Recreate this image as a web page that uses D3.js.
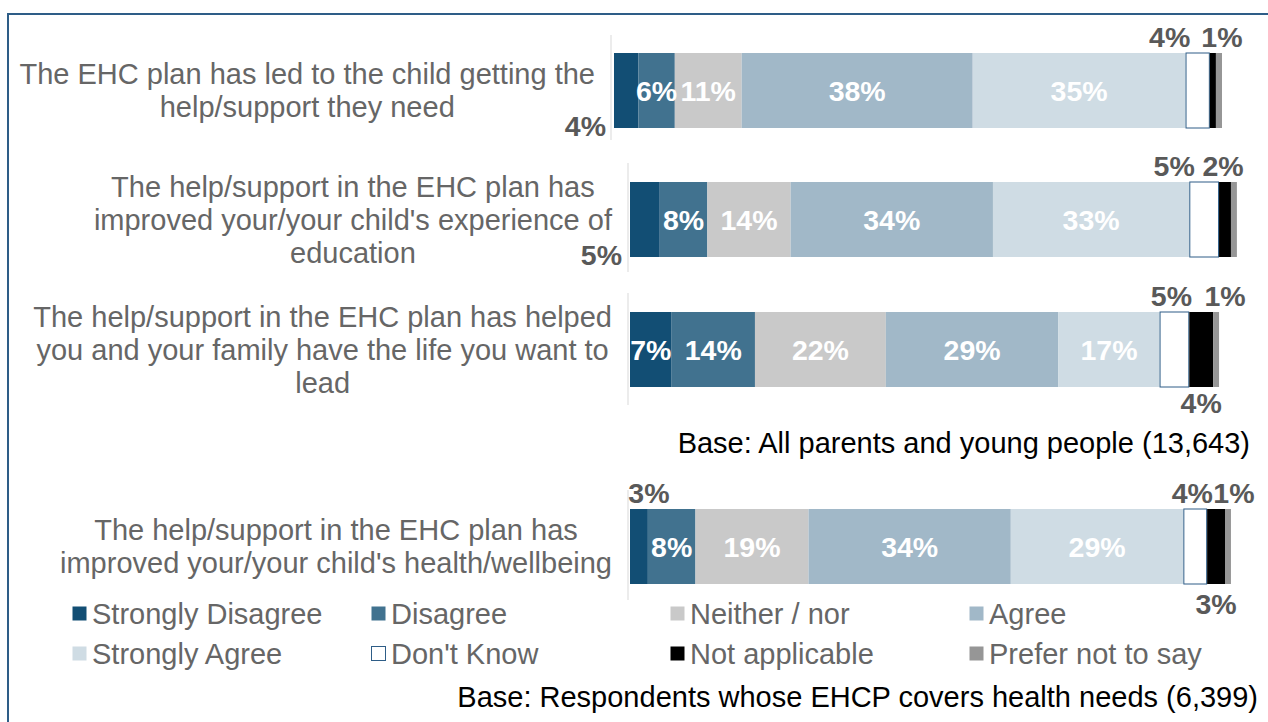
<!DOCTYPE html>
<html>
<head>
<meta charset="utf-8">
<script src="https://cdn.jsdelivr.net/npm/d3@7"></script>
<style>
	html, body { margin: 0; padding: 0; background: #fff; }
	svg { display: block; font-family: "Liberation Sans", Arial, sans-serif; }
</style>
</head>
<body>
<script>
	'use strict';

	// statements, one per bar (line breaks as in the original)
	var categories = [
		["The EHC plan has led to the child getting the", "help/support they need"],
		["The help/support in the EHC plan has", "improved your/your child's experience of", "education"],
		["The help/support in the EHC plan has helped", "you and your family have the life you want to", "lead"],
		["The help/support in the EHC plan has", "improved your/your child's health/wellbeing"]
	];

	var seriesNames = ["Strongly Disagree", "Disagree", "Neither / nor", "Agree",
		"Strongly Agree", "Don't Know", "Not applicable", "Prefer not to say"];

	// percentages per series, one value per statement
	var stronglyDisagree = [4, 5, 7, 3];
	var disagree         = [6, 8, 14, 8];
	var neitherNor       = [11, 14, 22, 19];
	var agree            = [38, 34, 29, 34];
	var stronglyAgree    = [35, 33, 17, 29];
	var dontKnow         = [4, 5, 5, 4];
	var notApplicable    = [1, 2, 4, 3];
	var preferNotToSay   = [1, 1, 1, 1];

	var baseNotes = ["Base: All parents and young people (13,643)",
		"Base: Respondents whose EHCP covers health needs (6,399)"];

	var series = [stronglyDisagree, disagree, neitherNor, agree, stronglyAgree, dontKnow, notApplicable, preferNotToSay];

	var colors = ["#124e74", "#41728f", "#c9c9c9", "#a1b8c8", "#cfdce4", "#ffffff", "#000000", "#969696"];

	// each bar is its own little chart in the original, so each gets its own frame
	var panels = [
		{ left: 614, right: 1222, top: 53, axisX: 611, axisTop: 35, axisBottom: 140 },
		{ left: 630, right: 1225, top: 182, axisX: 628, axisTop: 163, axisBottom: 272 },
		{ left: 630, right: 1225, top: 312, axisX: 628, axisTop: 293, axisBottom: 405 },
		{ left: 630, right: 1225, top: 509, axisX: 628, axisTop: 490, axisBottom: 600 }
	];
	var barHeight = 75;

	// labels for the small segments sit outside the bar (placed by hand in the original)
	var outsideLabels = [
		{ row: 0, s: 0, side: "left" },
		{ row: 0, s: 5, side: "above", dx: -28 },
		{ row: 0, s: 7, side: "above", dx: 3 },
		{ row: 1, s: 0, side: "left" },
		{ row: 1, s: 5, side: "above", dx: -30 },
		{ row: 1, s: 6, side: "above", dx: -2 },
		{ row: 2, s: 5, side: "above", dx: -3 },
		{ row: 2, s: 7, side: "above", dx: 9 },
		{ row: 2, s: 6, side: "below" },
		{ row: 3, s: 0, side: "above", dx: 10 },
		{ row: 3, s: 5, side: "above", dx: -3 },
		{ row: 3, s: 7, side: "above", dx: 6 },
		{ row: 3, s: 6, side: "below", dy: 4 }
	];

	var fontSize = 29;
	var valueFontSize = 28.5;

	var svg = d3.select("body").append("svg")
		.attr("width", 1268)
		.attr("height", 722);

	// frame
	svg.append("rect")
		.attr("x", 8).attr("y", 14)
		.attr("width", 1300).attr("height", 760)
		.attr("fill", "none")
		.attr("stroke", "#2e5d87")
		.attr("stroke-width", 2);

	categories.forEach(function(lines, row) {
		var p = panels[row];
		var x = d3.scaleLinear().domain([0, 100]).range([p.left, p.right]);
		var g = svg.append("g");

		// stack the segments
		var stack = [], acc = 0;
		series.forEach(function(vals, s) {
			stack.push({ s: s, v: vals[row], x0: acc, x1: acc + vals[row] });
			acc += vals[row];
		});

		// vertical axis line
		g.append("line")
			.attr("x1", p.axisX).attr("x2", p.axisX)
			.attr("y1", p.axisTop).attr("y2", p.axisBottom)
			.attr("stroke", "#d9d9d9").attr("stroke-width", 1);

		g.selectAll("rect.seg")
			.data(stack)
			.enter().append("rect")
			.attr("class", "seg")
			.attr("x", function(d) { return x(d.x0) + (d.s === 5 ? 0.5 : 0); })
			.attr("y", p.top)
			.attr("width", function(d) { return x(d.x1) - x(d.x0) - (d.s === 5 ? 1 : 0); })
			.attr("height", barHeight)
			.attr("fill", function(d) { return colors[d.s]; })
			.attr("stroke", function(d) { return d.s === 5 ? "#2e5d87" : "none"; })
			.attr("stroke-width", 1);

		// white labels inside the wide segments
		g.selectAll("text.inside")
			.data(stack.filter(function(d) { return (d.s >= 1 && d.s <= 4) || (d.s === 0 && d.v >= 6); }))
			.enter().append("text")
			.attr("class", "inside")
			.attr("x", function(d) { return (x(d.x0) + x(d.x1)) / 2; })
			.attr("y", p.top + barHeight / 2)
			.attr("dy", "0.36em")
			.attr("text-anchor", "middle")
			.attr("fill", "#ffffff")
			.style("font-size", valueFontSize + "px")
			.style("font-weight", "bold")
			.text(function(d) { return d.v + "%"; });

		// grey labels outside the bar
		outsideLabels.filter(function(o) { return o.row === row; }).forEach(function(o) {
			var d = stack[o.s];
			var t = g.append("text")
				.attr("fill", "#595959")
				.style("font-size", valueFontSize + "px")
				.style("font-weight", "bold")
				.attr("dy", "0.36em")
				.text(d.v + "%");
			if (o.side === "left") {
				t.attr("x", p.left - 8).attr("y", p.top + barHeight - 2).attr("text-anchor", "end");
			} else if (o.side === "above") {
				t.attr("x", (x(d.x0) + x(d.x1)) / 2 + (o.dx || 0))
					.attr("y", p.top - 16).attr("text-anchor", "middle");
			} else {
				t.attr("x", (x(d.x0) + x(d.x1)) / 2 + (o.dx || 0))
					.attr("y", p.top + barHeight + 16 + (o.dy || 0)).attr("text-anchor", "middle");
			}
		});

		// statement text, centred block ending just left of the axis
		var lineGap = 33;
		var label = g.append("text")
			.attr("fill", "#666666")
			.style("font-size", fontSize + "px")
			.attr("text-anchor", "middle");
		var cy = p.top + barHeight / 2 - (lines.length - 1) * lineGap / 2;
		var spans = label.selectAll("tspan")
			.data(lines)
			.enter().append("tspan")
			.attr("y", function(d, i) { return cy + i * lineGap; })
			.attr("dy", "0.36em")
			.text(function(d) { return d; });
		var maxW = d3.max(spans.nodes(), function(n) { return n.getComputedTextLength(); });
		spans.attr("x", p.axisX - 16 - maxW / 2);
	});

	// base notes
	svg.append("text")
		.attr("x", 1250).attr("y", 443).attr("dy", "0.36em")
		.attr("text-anchor", "end")
		.attr("fill", "#000")
		.style("font-size", fontSize + "px")
		.text(baseNotes[0]);

	svg.append("text")
		.attr("x", 1258).attr("y", 697).attr("dy", "0.36em")
		.attr("text-anchor", "end")
		.attr("fill", "#000")
		.style("font-size", fontSize + "px")
		.text(baseNotes[1]);

	// legend, two rows of four
	var legend = svg.append("g").selectAll("g")
		.data(seriesNames)
		.enter().append("g")
		.attr("transform", function(d, i) {
			return "translate(" + (72 + (i % 4) * 299) + "," + (614 + Math.floor(i / 4) * 40) + ")";
		});

	legend.append("rect")
		.attr("x", 0.5).attr("y", -7.5)
		.attr("width", 14).attr("height", 14)
		.attr("fill", function(d, i) { return colors[i]; })
		.attr("stroke", function(d, i) { return i === 5 ? "#2e5d87" : "none"; });

	legend.append("text")
		.attr("x", 20).attr("y", 0).attr("dy", "0.36em")
		.attr("fill", "#666666")
		.style("font-size", fontSize + "px")
		.text(function(d) { return d; });
</script>
</body>
</html>
